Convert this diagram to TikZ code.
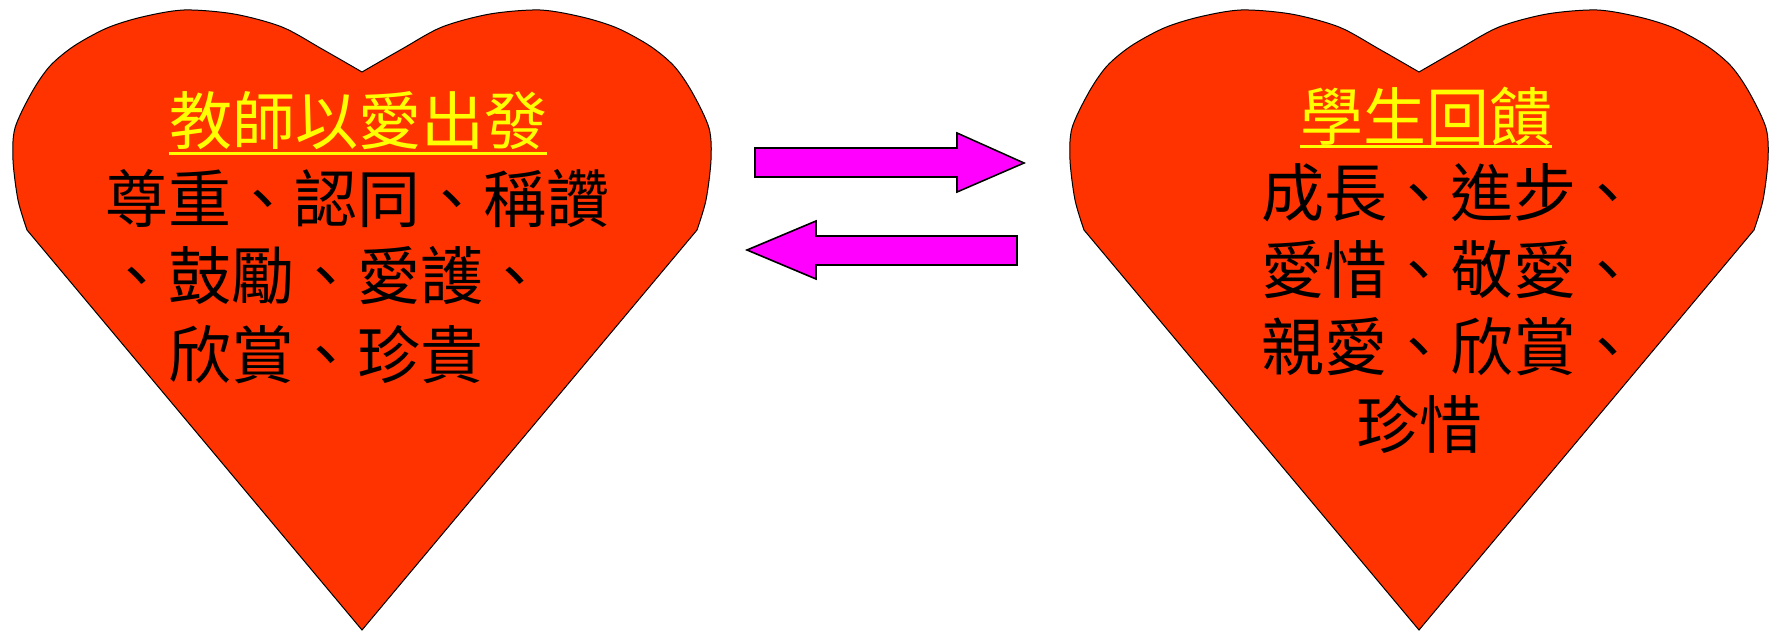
\documentclass[tikz,border=0pt]{standalone}
\usepackage{fontspec}
\newfontfamily\cjk{Noto Sans CJK TC}
\usetikzlibrary{positioning}
\definecolor{heartred}{RGB}{255,51,0}
\definecolor{arrowpink}{RGB}{255,0,255}
\definecolor{titleyellow}{RGB}{255,255,0}

\begin{document}
\begin{tikzpicture}[x=1pt, y=-1pt, node distance=77pt, on grid,
    heart/.style={draw=black, line width=1pt, fill=heartred},
    bigarrow/.style={draw=black, line width=1.6pt, fill=arrowpink, line join=miter},
    title/.style={inner sep=0pt, text=titleyellow, font=\cjk\fontsize{63}{77}\selectfont},
    body/.style={inner sep=0pt, text=black, font=\cjk\fontsize{63}{77}\selectfont},
    uline/.style={draw=titleyellow, line width=3pt}]
   \useasboundingbox (0,0) rectangle (1779,634);

   % 兩顆心
   \foreach \cx in {362,1419} {
     \draw[heart] (\cx,630)
       -- plot[smooth, tension=.5] coordinates {(\cx-335,230) (\cx-344,200) (\cx-349,160)
            (\cx-347,128) (\cx-330,92) (\cx-312,66) (\cx-288,46) (\cx-255,28) (\cx-220,17)
            (\cx-178,10) (\cx-128,14) (\cx-80,27) (\cx-40,49) (\cx,72)}
       -- plot[smooth, tension=.5] coordinates {(\cx,72) (\cx+40,49) (\cx+80,27) (\cx+128,14)
            (\cx+178,10) (\cx+220,17) (\cx+255,28) (\cx+288,46) (\cx+312,66) (\cx+330,92)
            (\cx+347,128) (\cx+349,160) (\cx+344,200) (\cx+335,230)}
       -- cycle;
   }

   % 教師
   \node[title] (t_1) at (358,121) {教師以愛出發};
   \draw[uline] (t_1.west |- 0,153) -- (t_1.east |- 0,153);
   \node[body] (l_1) at (357,198) {尊重、認同、稱讚};
   \node[body] (l_2) [below=78pt of l_1.west, anchor=west] {、鼓勵、愛護、};
   \node[body] (l_3) [below=79pt of l_2.west, anchor=west, xshift=63pt] {欣賞、珍貴};

   % 學生
   \node[title] (t_2) at (1426,116) {學生回饋};
   \draw[uline] (t_2.west |- 0,146) -- (t_2.east |- 0,146);
   \node[body] (r_1) at (1419,193) {成長、進步\rlap{、}};
   \node[body] (r_2) [below=of r_1] {愛惜、敬愛\rlap{、}};
   \node[body] (r_3) [below=of r_2] {親愛、欣賞\rlap{、}};
   \node[body] (r_4) [below=of r_3] {珍惜};

   % 箭頭
   \draw[bigarrow] (755,148) -- (957,148) -- (957,133) -- (1024,163)
      -- (957,192) -- (957,177) -- (755,177) -- cycle;
   \draw[bigarrow] (1017,236) -- (816,236) -- (816,221) -- (747,250)
      -- (816,279) -- (816,265) -- (1017,265) -- cycle;
\end{tikzpicture}
\end{document}
